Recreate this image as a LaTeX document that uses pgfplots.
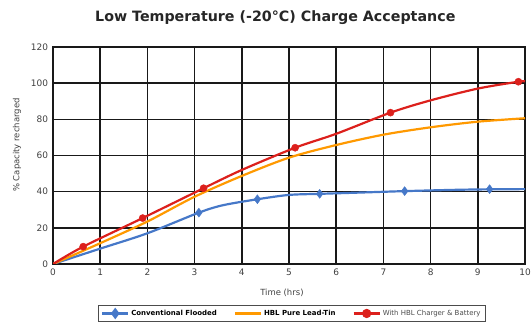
\documentclass[border=0pt]{standalone}
\usepackage{pgfplots}
\pgfplotsset{compat=1.18}
\usepackage{fontspec}
\setmainfont{DejaVu Sans}
\definecolor{cblue}{RGB}{70,120,200}
\definecolor{corange}{RGB}{255,153,0}
\definecolor{cred}{RGB}{220,32,28}
\definecolor{tickgray}{RGB}{64,64,64}
\begin{document}
\begin{tikzpicture}
\path[use as bounding box] (0,0) rectangle (531bp,325bp);
\begin{axis}[
  at={(53bp,61bp)}, anchor=south west,
  scale only axis, width=472bp, height=217bp,
  xmin=0, xmax=10, ymin=0, ymax=120,
  xtick={0,1,...,10}, ytick={0,20,...,120},
  grid=major,
  major grid style={black!90, line width=1.6pt},
  axis line style={black!90, line width=1.6pt},
  tick style={draw=none},
  tick label style={font=\fontsize{9}{10}\selectfont, text=tickgray},
  /pgf/number format/assume math mode=true,
  xticklabel style={yshift=-1bp},
  yticklabel style={xshift=-1.5bp},
  xlabel={Time (hrs)},
  ylabel={\% Capacity recharged},
  label style={font=\fontsize{8.5}{10}\selectfont, text=tickgray},
  xlabel style={at={(axis description cs:0.485,-0.135)}, anchor=center},
  ylabel style={at={(axis description cs:-0.076,0.548)}, anchor=center, rotate=0},
  title={Low Temperature (-20°C) Charge Acceptance},
  title style={font=\bfseries\fontsize{14.3}{16}\selectfont, text=black!85, at={(0.471,1.106)}, anchor=center},
  legend columns=3,
  legend style={at={(0.506,-0.228)}, anchor=center, draw=black!70, line width=0.6pt,
    font=\fontsize{7}{8.5}\selectfont, inner sep=2.5pt,
    /tikz/every even column/.append style={column sep=15bp}},
  legend image code/.code={\draw[#1] (0bp,0bp) -- (26bp,0bp); \path[#1,mark repeat=1] plot coordinates {(13bp,0bp)};},
]
\addlegendimage{cblue, line width=2.2pt, mark=diamond*, mark size=4pt, mark options={solid}}
\addlegendentry{\textbf{Conventional Flooded}}
\addlegendimage{corange, line width=2.2pt}
\addlegendentry{\textbf{HBL Pure Lead-Tin}}
\addlegendimage{cred, line width=2.2pt, mark=*, mark size=3.5pt}
\addlegendentry{\textcolor{black!70}{With HBL Charger \& Battery}}

% Conventional Flooded
\addplot[cblue, line width=2.2pt, smooth, forget plot] coordinates {
(0,0) (1,8.5) (2,17) (3.09,28.4) (3.6,32.5) (4.33,35.8) (5,38.2) (5.65,38.8) (6.5,39.5) (7.45,40.3) (8.5,41) (9.25,41.3) (10,41.4)};
\addplot[cblue, only marks, mark=diamond*, mark size=4.5pt, forget plot] coordinates {
(3.09,28.4) (4.33,35.8) (5.65,38.8) (7.45,40.3) (9.25,41.4)};

% HBL Pure Lead-Tin
\addplot[corange, line width=2.2pt, smooth, forget plot] coordinates {
(0,0) (1,11.5) (2,23.5) (3,37.2) (4,48.7) (5,58.8) (6,65.8) (7,71.5) (8,75.6) (9,78.7) (10,80.6)};

% With HBL Charger & Battery
\addplot[cred, line width=2.2pt, smooth, forget plot] coordinates {
(0,0) (0.64,9.6) (1.9,25.4) (3.19,41.9) (4,52) (5.13,64.3) (6,72) (7.15,83.7) (8,90.5) (9,97) (9.86,100.8) (10,101)};
\addplot[cred, only marks, mark=*, mark size=3.6pt, forget plot] coordinates {
(0.64,9.6) (1.9,25.4) (3.19,41.9) (5.13,64.3) (7.15,83.7) (9.86,100.8)};
\end{axis}
\end{tikzpicture}
\end{document}
